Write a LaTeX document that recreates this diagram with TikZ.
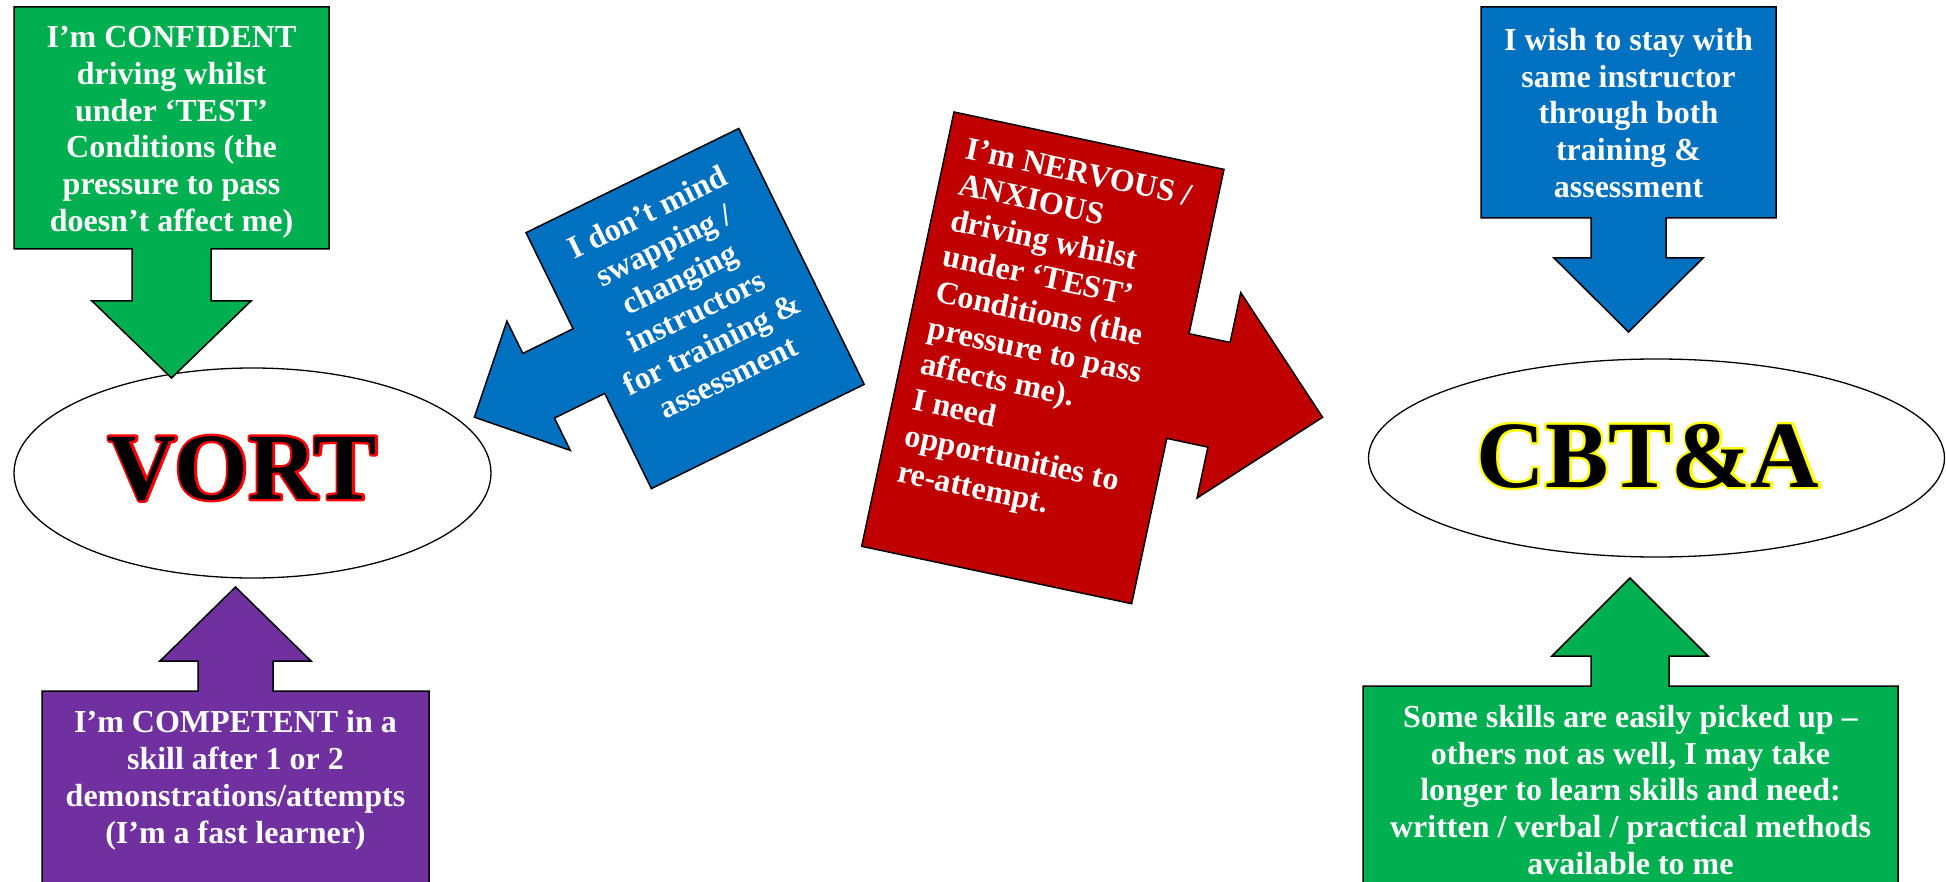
\documentclass[tikz,border=0pt]{standalone}
\usepackage{fontspec}
\setmainfont{Liberation Serif}
\usetikzlibrary{shapes.geometric}
\definecolor{cgreen}{RGB}{0,176,80}
\definecolor{cblue}{RGB}{0,112,192}
\definecolor{cred}{RGB}{192,0,0}
\definecolor{cpurple}{RGB}{112,48,160}
\definecolor{cyellow}{RGB}{255,255,0}
\newcommand\bodyfont{\fontsize{32}{36.7}\selectfont\bfseries}
\newcommand\bigfont{\fontsize{95}{100}\selectfont\bfseries}
% black letters with an outline colour (#1 = rgb triple) drawn round them
\newcommand\outlined[2]{\special{color push rgb 0 0 0}%
  \rlap{\special{pdf:literal direct 1 Tr 4.8 w 1 j #1 RG}#2\special{pdf:literal direct 0 Tr 0 j 0 0 0 RG}}%
  #2\special{color pop}}
\begin{document}
\begin{tikzpicture}[x=1pt,y=-1pt,
  shapeline/.style={draw=black, line width=1.5pt, line join=miter},
  bodytext/.style={text=white, font=\bodyfont, inner sep=0pt, align=center},
  oval/.style={ellipse, draw=black, line width=1.3pt, fill=white, inner sep=0pt},
  bigtext/.style={font=\bigfont, text=black, inner sep=0pt, anchor=base}]
\useasboundingbox[fill=white] (0,0) rectangle (1946,882);

% ellipses
\node[oval, minimum width=477, minimum height=210] (vort) at (252.5,473) {};
\node[bigtext] (vortlabel) at (242.5,499) {\outlined{1 0 0}{VORT}};
\node[oval, minimum width=576, minimum height=198] (cbta) at (1656.5,458) {};
\node[bigtext] (cbtalabel) at (1648,487) {\outlined{1 1 0}{CBT\&A}};

% top-left green callout
\draw[shapeline, fill=cgreen] (14,7) -- (329,7) -- (329,249) -- (211,249) -- (211,301) -- (251,301)
  -- (171.5,378) -- (92,301) -- (132,301) -- (132,249) -- (14,249) -- cycle;
\node[bodytext, anchor=north] (confident) at (171.5,26.3)
  {I’m CONFIDENT\\driving whilst\\under ‘TEST’\\Conditions (the\\pressure to pass\\doesn’t affect me)};

% bottom-left purple callout
\draw[shapeline, fill=cpurple] (42,940) -- (42,691) -- (198,691) -- (198,661) -- (160,661)
  -- (235.5,587) -- (311,661) -- (273,661) -- (273,691) -- (429,691) -- (429,940) -- cycle;
\node[bodytext, anchor=north] (competent) at (235.5,710.5)
  {I’m COMPETENT in a\\skill after 1 or 2\\demonstrations/attempts\\(I’m a fast learner)};

% top-right blue callout
\draw[shapeline, fill=cblue] (1481,7) -- (1776,7) -- (1776,218) -- (1666,218) -- (1666,258) -- (1703,258)
  -- (1628.5,332) -- (1554,258) -- (1591,258) -- (1591,218) -- (1481,218) -- cycle;
\node[bodytext, anchor=north] (stay) at (1628.5,28)
  {I wish to stay with\\same instructor\\through both\\training \&\\assessment};

% bottom-right green callout
\draw[shapeline, fill=cgreen] (1363,940) -- (1363,686) -- (1591,686) -- (1591,656) -- (1552,656)
  -- (1630,578) -- (1708,656) -- (1669,656) -- (1669,686) -- (1898,686) -- (1898,940) -- cycle;
\node[bodytext, anchor=north] (skills) at (1630.5,705)
  {Some skills are easily picked up –\\others not as well, I may take\\longer to learn skills and need:\\written / verbal / practical methods\\available to me};

% rotated blue callout (points left)
\begin{scope}[shift={(526,232.7)}, rotate=26.1]
\draw[shapeline, fill=cblue] (0,0) -- (237,0) -- (237,285) -- (0,285) -- (0,179) -- (-56,179)
  -- (-56,215) -- (-127.5,143) -- (-56,71) -- (-56,107) -- (0,107) -- cycle;
\node[bodytext, anchor=north, transform shape] (swap) at (118,23.5)
  {I don’t mind\\swapping /\\changing\\instructors\\for training \&\\assessment};
\end{scope}

% rotated red callout (points right)
\begin{scope}[shift={(954,112)}, rotate=-12]
\draw[shapeline, fill=cred] (0,0) -- (276,0) -- (276,168) -- (318,168) -- (318,117) -- (424,222)
  -- (318,327) -- (318,275) -- (276,275) -- (276,444) -- (0,444) -- cycle;
\node[bodytext, align=left, anchor=north west, transform shape] (nervous) at (20,21.5)
  {I’m NERVOUS /\\ANXIOUS\\driving whilst\\under ‘TEST’\\Conditions (the\\pressure to pass\\affects me).\\I need\\opportunities to\\re-attempt.};
\end{scope}
\end{tikzpicture}
\end{document}
